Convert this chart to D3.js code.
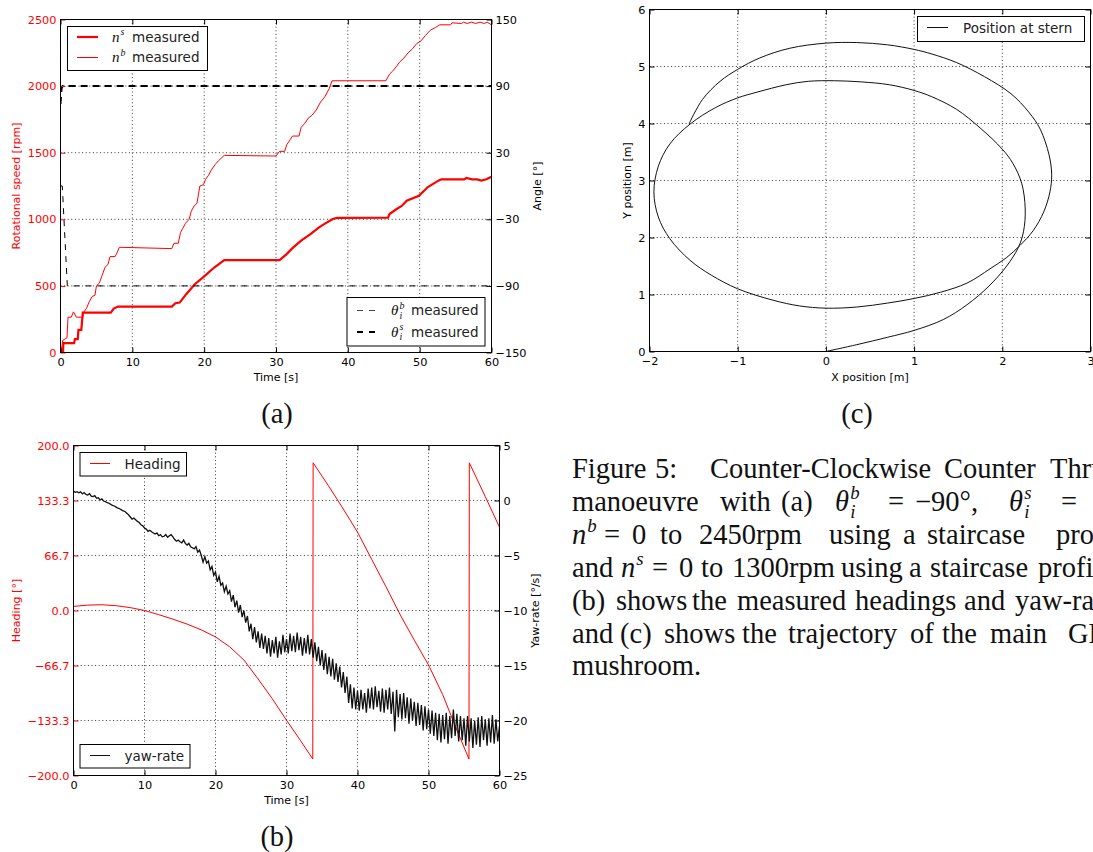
<!DOCTYPE html>
<html><head><meta charset="utf-8">
<script src="https://cdn.jsdelivr.net/npm/d3@7"></script>
<style>body{margin:0;background:#fff}svg{display:block}</style>
</head><body>
<svg id="fig" width="1093" height="852"></svg>
<script>
// ---------------- DATA ----------------
// (a) rotational speeds [rpm] vs time [s]
const nsTime = [0,0.35,0.4,1.9,2.0,2.4,2.5,2.9,3.1,7.0,7.4,8.0,15.5,16.0,16.6,17.5,18.7,20.0,21.4,22.8,30.5,31.4,32.4,33.5,34.8,36.0,36.7,37.9,38.5,45.6,45.8,46.8,47.5,48.2,49.9,51.1,52.6,53.0,56.2,56.5,57.3,58.0,58.6,59.3,60.0];
const nsRpm  = [0,0,70,70,100,100,170,170,300,300,330,345,345,370,375,438,513,571,638,694,694,735,789,840,889,940,964,1002,1010,1012,1040,1077,1100,1140,1177,1240,1290,1300,1300,1310,1300,1300,1290,1300,1320];
const nbTime = [0,0.1,0.3,0.6,0.9,1.05,1.5,1.8,2.2,3.1,3.2,3.6,4.0,4.4,4.8,5.0,5.4,5.8,6.2,6.6,6.9,7.6,7.8,8.2,15.5,15.8,16.4,16.7,17.0,17.4,17.9,18.2,18.6,19.0,19.4,19.9,20.2,20.6,21.0,21.5,22.0,22.8,30.0,30.2,30.5,31.2,31.5,32.0,32.3,33.2,33.5,34.0,34.5,35.0,35.6,36.2,36.8,37.4,37.8,45.3,45.8,46.2,46.8,47.2,47.8,48.4,49.0,49.6,50.2,50.8,51.5,52.2,52.8,54.3,54.5,55.8,56.1,56.6,57.2,57.8,58.4,59.0,59.4,60.0];
const nbRpm  = [0,0,90,100,110,265,265,305,265,265,300,330,380,420,430,500,520,580,640,660,720,720,740,790,780,820,820,900,930,970,1000,1060,1100,1120,1250,1260,1300,1330,1370,1410,1440,1480,1475,1490,1510,1510,1560,1600,1625,1625,1690,1720,1760,1780,1820,1880,1920,1980,2040,2040,2090,2110,2150,2180,2210,2250,2280,2320,2340,2380,2420,2440,2460,2460,2475,2470,2480,2470,2480,2470,2480,2470,2480,2460];
// (a) azimuth angles [deg]
const thbTime = [0,0.25,0.95,60];
const thbAng  = [0,0,-90,-90];
const thsTime = [0,0.15,0.3,60];
const thsAng  = [74,88,90,90];
const rpmTicks = [0,500,1000,1500,2000,2500];
const angTicks = [-150,-90,-30,30,90,150];
const timeTicks = [0,10,20,30,40,50,60];

// (b) heading [deg] and yaw-rate [deg/s]
const hdTime = [0,2,4,6,8,10,12,14,16,18,20,22,24,26,28,30,32,33.7,33.75,36,38,40,42,44,46,48,50,52,54,55.7,55.75,58,60];
const hdVal  = [5,6.5,7,5.8,3.5,0,-5,-10.5,-16.5,-23.5,-32,-44,-60,-83,-107,-133,-158,-180,179,150,123,95,62,29,-5,-36,-66,-102,-145,-180,179,138,101];
const yawStep = 0.25; // sample spacing of yaw-rate [s]
const yawVal = [0.85,0.75,0.8,0.7,0.78,0.6,0.72,0.55,0.5,0.62,0.4,0.35,0.45,0.2,0.25,0.05,0.15,-0.05,-0.1,-0.2,-0.25,
 -0.35,-0.45,-0.5,-0.6,-0.7,-0.75,-0.85,-0.95,-1.0,-1.15,-1.3,-1.5,-1.7,-1.6,-1.75,-1.9,-2.0,-2.2,-2.3,-2.5,
 -2.6,-2.8,-2.7,-2.85,-2.95,-3.05,-2.95,-3.2,-3.1,-3.3,-3.25,-3.1,-3.35,-3.2,-3.1,-3.3,-3.55,-3.7,-3.6,-3.75,
 -3.85,-3.6,-3.9,-4.05,-3.9,-4.2,-4.3,
 -4.4,-4.2,-4.7,-4.5,-5.0,-5.6,-5.1,-5.7,-5.5,-6.3,-6.0,-6.8,-6.5,-7.4,-6.9,-7.7,-7.5,-8.3,-7.8,-8.5,-8.2,
 -9.2,-8.6,-9.7,-9.1,-10.2,-9.5,-10.6,-10.0,-11.1,-10.5,-11.9,-11.2,
 -12.6,-11.5,-12.9,-11.9,-13.4,-12.1,-13.5,-12.3,-13.9,-12.5,-14.2,-12.7,-13.9,-12.4,-14.3,-12.8,-14.0,-12.2,-13.8,-12.6,
 -13.9,-12.1,-13.7,-12.3,-13.8,-12.0,-13.6,-12.4,-14.1,-12.5,-13.9,-12.2,-14.0,-12.6,-14.3,-12.9,-14.6,-13.3,-15.0,-13.6,
 -15.4,-13.9,-15.8,-14.2,-16.0,-14.4,-16.3,-14.8,-16.5,-15.1,-17.0,-15.6,-17.5,-16.0,-18.4,-16.7,-18.9,-17.0,-19.0,-17.3,
 -19.1,-17.2,-19.0,-17.5,-19.3,-17.1,-18.9,-17.0,-19.0,-16.9,-18.8,-17.3,-19.2,-17.1,-19.3,-17.2,-19.0,-17.0,-19.4,-17.4,
 -21.0,-17.2,-19.7,-17.6,-19.9,-17.5,-19.8,-17.9,-20.3,-18.0,-20.0,-18.3,-20.5,-18.4,-20.4,-18.6,-20.9,-18.7,-20.8,-19.0,
 -21.2,-19.1,-21.4,-19.3,-21.8,-19.4,-22.0,-19.5,-21.7,-19.3,-22.1,-19.6,-21.6,-19.0,-21.4,-19.4,-21.9,-19.6,-21.8,-19.8,
 -22.3,-19.6,-21.9,-19.8,-22.5,-20.0,-22.2,-19.7,-22.4,-19.6,-21.8,-19.9,-22.3,-19.8,-22.0,-19.5,-22.1,-19.9,-21.9,-20.5];
const headingTicks = [-200,-133.3,-66.7,0,66.7,133.3,200];
const yawTicks = [-25,-20,-15,-10,-5,0,5];

// (c) trajectory of the stern [m]
const trajX = [0,0.35,0.7,1,1.33,1.6,1.85,2.05,2.18,2.24,2.26,2.22,2.12,2,1.75,1.48,1.2,1,0.72,0.4,0.1,-0.2,-0.45,-0.78,-1,-1.25,-1.54,-1.77,-1.9,-1.95,-1.9,-1.77,-1.54,-1.3,-1,-0.6,-0.3,0,0.35,0.7,1,1.3,1.6,1.86,2.05,2.2,2.35,2.47,2.54,2.56,2.53,2.43,2.3,2.1,1.8,1.48,1.2,1,0.7,0.35,0,-0.41,-0.75,-1,-1.2,-1.4,-1.55];
const trajY = [0,0.12,0.25,0.37,0.56,0.82,1.15,1.5,1.82,2.1,2.5,2.95,3.3,3.55,3.92,4.25,4.47,4.58,4.68,4.73,4.75,4.74,4.68,4.55,4.45,4.28,3.99,3.64,3.25,2.8,2.36,1.98,1.6,1.34,1.1,0.9,0.8,0.76,0.78,0.85,0.93,1.04,1.2,1.45,1.65,1.86,2.12,2.45,2.8,3.1,3.45,3.9,4.2,4.52,4.82,5.07,5.22,5.3,5.38,5.42,5.41,5.32,5.15,4.95,4.74,4.42,4.0];
const xPosTicks = [-2,-1,0,1,2,3];
const yPosTicks = [0,1,2,3,4,5,6];

// ---------------- DRAWING ----------------
const svg = d3.select("#fig");
const RED = "#ff0000";
const SANS = "'DejaVu Sans', sans-serif";
const SERIF = "'Liberation Serif', 'Times New Roman', serif";
const TICKFS = 11.3, LABFS = 11, LEGFS = 13.5, CAPFS = 28.5;

function zipPts(a, b) { return a.map((v, i) => [v, b[i]]); }

function panel(id, L, R, T, B) {
  const g = svg.append("g");
  svg.append("clipPath").attr("id", id).append("rect")
    .attr("x", L).attr("y", T).attr("width", R - L).attr("height", B - T);
  return g;
}

function grid(g, x, y, xt, yt, L, R, T, B) {
  xt.forEach(t => { const p = x(t); if (p > L + 1 && p < R - 1)
    g.append("line").attr("x1", p).attr("x2", p).attr("y1", T).attr("y2", B)
      .attr("stroke", "#000").attr("stroke-width", 0.8).attr("stroke-dasharray", "1,2.6"); });
  yt.forEach(t => { const p = y(t); if (p > T + 1 && p < B - 1)
    g.append("line").attr("x1", L).attr("x2", R).attr("y1", p).attr("y2", p)
      .attr("stroke", "#000").attr("stroke-width", 0.8).attr("stroke-dasharray", "1,2.6"); });
}

function styleAxis(sel, color) {
  sel.select(".domain").remove();
  sel.attr("font-family", SANS).attr("font-size", TICKFS);
  sel.selectAll(".tick line").attr("stroke", color).attr("stroke-width", 1);
  sel.selectAll(".tick text").attr("fill", color);
}

function axesFrame(g, cfg) {
  const {x, yl, yr, xt, ylt, yrt, ylFmt, yrFmt, L, R, T, B, leftColor} = cfg;
  const bx = g.append("g").attr("transform", `translate(0,${B})`)
    .call(d3.axisBottom(x).tickValues(xt).tickFormat(d3.format("d")).tickSizeInner(-5).tickSizeOuter(0).tickPadding(5));
  styleAxis(bx, "#000");
  const tx = g.append("g").attr("transform", `translate(0,${T})`)
    .call(d3.axisTop(x).tickValues(xt).tickFormat("").tickSizeInner(-5).tickSizeOuter(0));
  styleAxis(tx, "#000");
  const ly = g.append("g").attr("transform", `translate(${L},0)`)
    .call(d3.axisLeft(yl).tickValues(ylt).tickFormat(ylFmt).tickSizeInner(-5).tickSizeOuter(0).tickPadding(4));
  styleAxis(ly, leftColor);
  const ry = g.append("g").attr("transform", `translate(${R},0)`)
    .call(d3.axisRight(yr).tickValues(yrt).tickFormat(yrFmt).tickSizeInner(-5).tickSizeOuter(0).tickPadding(4));
  styleAxis(ry, "#000");
  if (cfg.noRightLabels) ry.selectAll(".tick text").remove();
  g.append("rect").attr("x", L).attr("y", T).attr("width", R - L).attr("height", B - T)
    .attr("fill", "none").attr("stroke", "#000").attr("stroke-width", 1);
}

function vlabel(x, cy, txt, color) {
  svg.append("text").attr("transform", `translate(${x},${cy}) rotate(-90)`)
    .attr("text-anchor", "middle").attr("font-family", SANS).attr("font-size", LABFS)
    .attr("fill", color).text(txt);
}
function hlabel(cx, y, txt) {
  svg.append("text").attr("x", cx).attr("y", y).attr("text-anchor", "middle")
    .attr("font-family", SANS).attr("font-size", LABFS).attr("fill", "#000").text(txt);
}
function legendBox(x, y, w, h) {
  svg.append("rect").attr("x", x).attr("y", y).attr("width", w).attr("height", h)
    .attr("fill", "#fff").attr("stroke", "#000").attr("stroke-width", 1);
}
function legendLine(x1, x2, y, color, w, dash) {
  svg.append("line").attr("x1", x1).attr("x2", x2).attr("y1", y).attr("y2", y)
    .attr("stroke", color).attr("stroke-width", w).attr("stroke-dasharray", dash || null);
}
function legendText(x, y, txt) {
  svg.append("text").attr("x", x).attr("y", y).attr("font-family", SANS)
    .attr("font-size", LEGFS).attr("fill", "#222").text(txt);
}
function mathSym(x, y, base, sup, sub, size) {
  const s = size || 15;
  svg.append("text").attr("x", x).attr("y", y).attr("font-family", SERIF).attr("font-style", "italic")
    .attr("font-size", s).attr("fill", "#111").text(base);
  const bw = s * 0.5;
  if (sup) svg.append("text").attr("x", x + bw + 1).attr("y", y - s * 0.42).attr("font-family", SERIF)
    .attr("font-style", "italic").attr("font-size", s * 0.66).attr("fill", "#111").text(sup);
  if (sub) svg.append("text").attr("x", x + bw + 1).attr("y", y + s * 0.24).attr("font-family", SERIF)
    .attr("font-style", "italic").attr("font-size", s * 0.66).attr("fill", "#111").text(sub);
}

// ===== Panel (a) =====
{
  const L = 60.5, R = 491.5, T = 19.5, B = 352.5;
  const g = panel("clipA", L, R, T, B);
  const x = d3.scaleLinear().domain([0, 60]).range([L, R]);
  const y = d3.scaleLinear().domain([0, 2500]).range([B, T]);
  const y2 = d3.scaleLinear().domain([-150, 150]).range([B, T]);
  grid(g, x, y, timeTicks, rpmTicks, L, R, T, B);
  const lineR = d3.line().x(d => x(d[0])).y(d => y(d[1]));
  const lineA = d3.line().x(d => x(d[0])).y(d => y2(d[1]));
  const c = g.append("g").attr("clip-path", "url(#clipA)");
  c.append("path").attr("d", lineR(zipPts(nbTime, nbRpm))).attr("fill", "none").attr("stroke", RED).attr("stroke-width", 1);
  c.append("path").attr("d", lineR(zipPts(nsTime, nsRpm))).attr("fill", "none").attr("stroke", RED).attr("stroke-width", 2.2);
  c.append("path").attr("d", lineA(zipPts(thbTime, thbAng))).attr("fill", "none").attr("stroke", "#000").attr("stroke-width", 1).attr("stroke-dasharray", "6,6");
  c.append("path").attr("d", lineA(zipPts(thsTime, thsAng))).attr("fill", "none").attr("stroke", "#000").attr("stroke-width", 2).attr("stroke-dasharray", "7,5");
  axesFrame(g, {x, yl: y, yr: y2, xt: timeTicks, ylt: rpmTicks, yrt: angTicks,
    ylFmt: d3.format("d"), yrFmt: d3.format("d"), L, R, T, B, leftColor: RED});
  vlabel(20, (T + B) / 2, "Rotational speed [rpm]", RED);
  vlabel(541, (T + B) / 2, "Angle [°]", "#000");
  hlabel((L + R) / 2, 381, "Time [s]");
  // legends
  legendBox(67.5, 26.5, 140, 44);
  legendLine(77, 98, 37, RED, 2.2);
  legendLine(77, 98, 57.5, RED, 1);
  mathSym(112, 41.5, "n", "s", null, 15);
  legendText(132, 41.5, "measured");
  mathSym(112, 62, "n", "b", null, 15);
  legendText(132, 62, "measured");
  legendBox(347, 297.5, 138, 48.5);
  legendLine(357, 375, 310.5, "#444", 1, "6,6");
  legendLine(357, 375, 332, "#000", 2, "6,6");
  mathSym(391, 315, "θ", "b", "i", 15);
  legendText(411, 315, "measured");
  mathSym(391, 336.5, "θ", "s", "i", 15);
  legendText(411, 336.5, "measured");
}

// ===== Panel (b) =====
{
  const L = 73.5, R = 499.5, T = 445.5, B = 775.5;
  const g = panel("clipB", L, R, T, B);
  const x = d3.scaleLinear().domain([0, 60]).range([L, R]);
  const y = d3.scaleLinear().domain([-200, 200]).range([B, T]);
  const y2 = d3.scaleLinear().domain([-25, 5]).range([B, T]);
  grid(g, x, y, timeTicks, headingTicks, L, R, T, B);
  const c = g.append("g").attr("clip-path", "url(#clipB)");
  c.append("path").attr("d", d3.line().x(d => x(d[0])).y(d => y(d[1]))(zipPts(hdTime, hdVal)))
    .attr("fill", "none").attr("stroke", RED).attr("stroke-width", 1);
  c.append("path").attr("d", d3.line().x((d, i) => x(i * yawStep)).y(d => y2(d))(yawVal))
    .attr("fill", "none").attr("stroke", "#111").attr("stroke-width", 1.3);
  axesFrame(g, {x, yl: y, yr: y2, xt: timeTicks, ylt: headingTicks, yrt: yawTicks,
    ylFmt: d3.format(".1f"), yrFmt: d3.format("d"), L, R, T, B, leftColor: RED});
  vlabel(19.5, (T + B) / 2, "Heading [°]", RED);
  vlabel(539, (T + B) / 2, "Yaw-rate [°/s]", "#000");
  hlabel((L + R) / 2, 803.5, "Time [s]");
  legendBox(80, 452.5, 106.5, 23.5);
  legendLine(90, 110, 463.5, RED, 1);
  legendText(124.5, 468.5, "Heading");
  legendBox(80, 744.5, 110, 23.5);
  legendLine(90, 110, 755.5, "#111", 1);
  legendText(124.5, 760.5, "yaw-rate");
}

// ===== Panel (c) =====
{
  const L = 649.5, R = 1090.5, T = 9.5, B = 351.5;
  const g = panel("clipC", L, R, T, B);
  const x = d3.scaleLinear().domain([-2, 3]).range([L, R]);
  const y = d3.scaleLinear().domain([0, 6]).range([B, T]);
  grid(g, x, y, xPosTicks, yPosTicks, L, R, T, B);
  const c = g.append("g").attr("clip-path", "url(#clipC)");
  c.append("path").attr("d", d3.line().curve(d3.curveCatmullRom.alpha(0.5)).x(d => x(d[0])).y(d => y(d[1]))(zipPts(trajX, trajY)))
    .attr("fill", "none").attr("stroke", "#111").attr("stroke-width", 1);
  axesFrame(g, {x, yl: y, yr: y, xt: xPosTicks, ylt: yPosTicks, yrt: yPosTicks,
    ylFmt: d3.format("d"), yrFmt: d3.format("d"), L, R, T, B, leftColor: "#000", noRightLabels: true});
  vlabel(631, (T + B) / 2, "Y position [m]", "#000");
  hlabel((L + R) / 2, 381, "X position [m]");
  legendBox(917.5, 16.5, 167, 25);
  legendLine(927, 948, 27.5, "#111", 1);
  legendText(963, 32.5, "Position at stern");
}

// ===== Sub-captions and figure caption =====
function ser(x, y, txt, opt) {
  const o = opt || {};
  const t = svg.append("text").attr("x", x).attr("y", y).attr("font-family", SERIF)
    .attr("font-size", o.size || CAPFS).attr("fill", "#111").text(txt);
  if (o.anchor) t.attr("text-anchor", o.anchor);
  return t;
}
ser(277, 423, "(a)", {anchor: "middle"});
ser(857, 423, "(c)", {anchor: "middle"});
ser(277, 846, "(b)", {anchor: "middle"});

const base = [478, 511, 544, 577, 610, 643, 675];
const captionLine1 = [[572, "Figure"], [655, "5:"], [710, "Counter-Clockwise"], [944, "Counter"], [1050, "Thrust"]];
const captionLine2 = [[572, "manoeuvre"], [720, "with"], [781, "(a)"], [888, "="], [915, "−90°,"], [1061, "="]];
const captionLine3 = [[604, "="], [632, "0"], [660, "to"], [699, "2450rpm"], [829, "using"], [903, "a"], [927, "staircase"], [1056, "profile"]];
const captionLine4 = [[572, "and"], [652, "="], [679, "0"], [701, "to"], [732, "1300rpm"], [841, "using"], [909, "a"], [930, "staircase"], [1038, "profile"]];
const captionLine5 = [[572, "(b)"], [616, "shows"], [692, "the"], [737, "measured"], [855, "headings"], [964, "and"], [1015, "yaw-rates"]];
const captionLine6 = [[572, "and"], [620, "(c)"], [664, "shows"], [742, "the"], [788, "trajectory"], [910, "of"], [942, "the"], [990, "main"], [1068, "GPS"]];
captionLine1.forEach(d => ser(d[0], base[0], d[1]));
captionLine2.forEach(d => ser(d[0], base[1], d[1]));
mathSym(835, base[1], "θ", "b", "i", CAPFS);
mathSym(1009, base[1], "θ", "s", "i", CAPFS);
mathSym(572, base[2], "n", "b", null, CAPFS);
captionLine3.forEach(d => ser(d[0], base[2], d[1]));
mathSym(621, base[3], "n", "s", null, CAPFS);
captionLine4.forEach(d => ser(d[0], base[3], d[1]));
captionLine5.forEach(d => ser(d[0], base[4], d[1]));
captionLine6.forEach(d => ser(d[0], base[5], d[1]));
ser(572, base[6], "mushroom.");
</script>
</body></html>
